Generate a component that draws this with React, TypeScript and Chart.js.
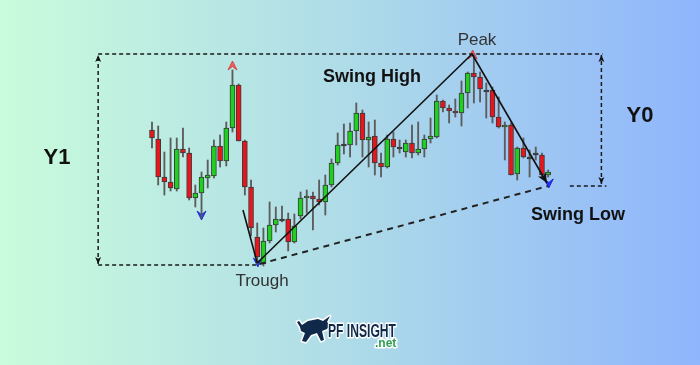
import React, { useEffect, useRef } from 'react';
import { Chart, registerables } from 'chart.js';

Chart.register(...registerables);

// ---- Candle data (price units) ----
const opens = [136, 127, 89, 84, 77, 117, 113, 68, 73, 88, 90, 120, 105, 138, 181, 125, 79, 29, 2, 25, 41, 47, 47, 24, 50, 68, 70, 67, 64, 81, 103, 122, 121, 135, 153, 126, 130, 103, 99, 127, 119, 114, 123, 113, 117, 127, 129, 165, 158, 155, 153, 173, 193, 189, 176, 176, 149, 139, 141, 92, 118, 109, 113, 111, 91];
const highs = [144, 140, 114, 128, 128, 138, 118, 81, 94, 106, 126, 131, 144, 196, 182, 126, 86, 43, 38, 64, 59, 60, 53, 52, 74, 76, 74, 86, 91, 107, 133, 142, 143, 163, 156, 144, 146, 113, 131, 134, 126, 126, 141, 144, 131, 148, 171, 166, 161, 167, 185, 194, 211, 194, 183, 179, 169, 144, 143, 119, 128, 116, 119, 113, 96];
const lows = [118, 81, 71, 75, 75, 109, 66, 59, 48, 78, 88, 99, 100, 134, 125, 71, 30, 2, 0, 23, 34, 44, 15, 23, 47, 53, 36, 61, 51, 79, 101, 112, 109, 121, 109, 99, 91, 89, 98, 109, 113, 109, 108, 111, 109, 123, 128, 154, 143, 149, 140, 158, 163, 164, 148, 143, 138, 106, 91, 86, 108, 89, 106, 89, 89];
const closes = [128, 89, 84, 78, 117, 113, 68, 73, 89, 91, 120, 105, 138, 181, 125, 79, 38, 9, 25, 41, 47, 47, 24, 40, 68, 70, 67, 64, 81, 103, 121, 122, 135, 153, 126, 129, 103, 99, 127, 119, 119, 123, 113, 117, 127, 130, 165, 158, 155, 153, 173, 193, 189, 177, 176, 149, 139, 141, 91, 118, 109, 109, 113, 91, 94];

// ---- Fractal markers ----
const upFractalX = [13, 51.8];
const upFractalY = [205, 216];
const downFractalX = [8, 17.1, 64.1];
const downFractalY = [46, -1, 78];

// ---- Swing structure ----
const leadInX = [14.7, 17];
const leadInY = [56, 3];
const swingHighX = [17, 51.7];
const swingHighY = [3, 212];
const swingDownX = [51.7, 63.8];
const swingDownY = [212, 83];
const baseX = [17.4, 64];
const baseY = [2, 80];

// ---- Levels / measures ----
const peakLevel = 212;
const troughLevel = 1;
const swingLowLevel = 80;
const leftMeasureX = -8.7;
const rightMeasureX = 72.6;
const troughX = 17.1;
const stubStartX = 67.5;
const stubEndX = 73.4;

const GREEN = '#1fd01f';
const RED = '#e8161c';

function pts(xs: number[], ys: number[]) {
  return xs.map((x, i) => ({ x, y: ys[i] }));
}

function drawFractal(ctx: CanvasRenderingContext2D, x: number, y: number, dir: number, fill: string, stroke: string) {
  ctx.beginPath();
  ctx.moveTo(x, y);
  ctx.lineTo(x - 4.5, y - dir * 9);
  ctx.lineTo(x, y - dir * 5.5);
  ctx.lineTo(x + 4.5, y - dir * 9);
  ctx.closePath();
  ctx.fillStyle = fill;
  ctx.fill();
  ctx.strokeStyle = stroke;
  ctx.lineWidth = 0.8;
  ctx.stroke();
}

function drawHead(ctx: CanvasRenderingContext2D, from: any, to: any, len: number, half: number, color: string) {
  const a = Math.atan2(to.y - from.y, to.x - from.x);
  ctx.save();
  ctx.translate(to.x, to.y);
  ctx.rotate(a);
  ctx.beginPath();
  ctx.moveTo(0, 0);
  ctx.lineTo(-len, -half);
  ctx.lineTo(-len * 0.75, 0);
  ctx.lineTo(-len, half);
  ctx.closePath();
  ctx.fillStyle = color;
  ctx.fill();
  ctx.restore();
}

const decorPlugin = {
  id: 'decor',
  beforeDraw(chart: any) {
    const { ctx, width, height } = chart;
    const g = ctx.createLinearGradient(0, 0, width, 0);
    g.addColorStop(0, '#c9fcdc');
    g.addColorStop(0.5, '#aedbe8');
    g.addColorStop(1, '#8fb5fc');
    ctx.save();
    ctx.fillStyle = g;
    ctx.fillRect(0, 0, width, height);
    ctx.restore();
  },
  beforeDatasetsDraw(chart: any) {
    const { ctx } = chart;
    const xs = chart.scales.x;
    const ys = chart.scales.y;
    ctx.save();
    upFractalX.forEach((x, i) => {
      drawFractal(ctx, xs.getPixelForValue(x), ys.getPixelForValue(upFractalY[i]), -1, 'rgba(255,70,70,0.85)', 'rgba(200,40,40,0.9)');
    });
    downFractalX.forEach((x, i) => {
      drawFractal(ctx, xs.getPixelForValue(x), ys.getPixelForValue(downFractalY[i]), 1, '#2035ff', '#1020c0');
    });
    ctx.restore();
  },
  afterDatasetsDraw(chart: any) {
    const { ctx } = chart;
    chart.data.datasets.forEach((ds: any, i: number) => {
      const meta = chart.getDatasetMeta(i);
      const p = meta.data;
      if (ds.arrowEnd && p.length > 1) drawHead(ctx, p[p.length - 2], p[p.length - 1], ds.arrowLen || 7, ds.arrowHalf || 3.5, '#111');
      if (ds.arrowStart && p.length > 1) drawHead(ctx, p[1], p[0], ds.arrowLen || 7, ds.arrowHalf || 3.5, '#111');
    });
  },
  afterDraw(chart: any) {
    const { ctx } = chart;
    ctx.save();
    ctx.textAlign = 'center';
    ctx.textBaseline = 'middle';
    const sans = '"Liberation Sans", Arial, sans-serif';
    ctx.fillStyle = '#333';
    ctx.font = `17px ${sans}`;
    ctx.fillText('Peak', 477, 40);
    ctx.fillText('Trough', 262, 281);
    ctx.fillStyle = '#111';
    ctx.font = `bold 18px ${sans}`;
    ctx.fillText('Swing High', 372, 77);
    ctx.fillText('Swing Low', 578, 215);
    ctx.font = `bold 22px ${sans}`;
    ctx.fillText('Y1', 57, 158);
    ctx.fillText('Y0', 640, 116);

    // logo
    ctx.lineJoin = 'round';
    ctx.beginPath();
    ctx.moveTo(300, 327);
    ctx.lineTo(297, 322);
    ctx.lineTo(299, 321);
    ctx.lineTo(302, 325);
    ctx.lineTo(308, 321);
    ctx.lineTo(318, 319);
    ctx.lineTo(323, 321);
    ctx.lineTo(330, 316);
    ctx.lineTo(327, 322);
    ctx.lineTo(330, 325);
    ctx.lineTo(327, 329);
    ctx.lineTo(322, 331);
    ctx.lineTo(324, 340);
    ctx.lineTo(321, 341);
    ctx.lineTo(317, 333);
    ctx.lineTo(311, 335);
    ctx.lineTo(306, 342);
    ctx.lineTo(302, 341);
    ctx.lineTo(305, 333);
    ctx.lineTo(301, 331);
    ctx.closePath();
    ctx.strokeStyle = '#fff';
    ctx.lineWidth = 3;
    ctx.stroke();
    ctx.fillStyle = '#10294a';
    ctx.fill();

    ctx.textAlign = 'left';
    ctx.font = `bold 18px ${sans}`;
    ctx.lineWidth = 3;
    ctx.strokeStyle = '#fff';
    ctx.strokeText('PF INSIGHT', 328, 332, 68);
    ctx.fillStyle = '#10294a';
    ctx.fillText('PF INSIGHT', 328, 332, 68);
    ctx.font = `bold 12px ${sans}`;
    ctx.strokeText('.net', 375, 344);
    ctx.fillStyle = '#2e9e52';
    ctx.fillText('.net', 375, 344);
    ctx.restore();
  },
};

export default function App() {
  const ref = useRef<HTMLCanvasElement | null>(null);
  useEffect(() => {
    if (!ref.current) return;
    const idx = opens.map((_, i) => i);
    const bodyColors = idx.map((i) => (closes[i] > opens[i] ? GREEN : closes[i] < opens[i] ? RED : '#333'));
    const solid = { type: 'line', pointRadius: 0, borderColor: '#111', borderWidth: 1.6, fill: false, tension: 0, order: 0 };
    const dashed = { type: 'line', pointRadius: 0, borderColor: '#1a1a1a', borderWidth: 1.5, borderDash: [4, 3], fill: false, tension: 0, order: 0 };
    const chart = new Chart(ref.current, {
      type: 'bar',
      data: {
        datasets: [
          { ...solid, data: pts(leadInX, leadInY) },
          { ...solid, data: pts(swingHighX, swingHighY) },
          { ...solid, data: pts(swingDownX, swingDownY), arrowEnd: true, arrowLen: 10, arrowHalf: 4.5 },
          { ...dashed, borderWidth: 2, borderDash: [6, 5], borderColor: '#222', data: pts(baseX, baseY) },
          { ...dashed, data: pts([leftMeasureX, rightMeasureX + 0.2], [peakLevel, peakLevel]) },
          { ...dashed, data: pts([leftMeasureX, troughX], [troughLevel, troughLevel]) },
          { ...dashed, data: pts([stubStartX, stubEndX], [swingLowLevel, swingLowLevel]) },
          { ...dashed, data: pts([leftMeasureX, leftMeasureX], [troughLevel + 1, peakLevel - 1]), arrowEnd: true, arrowStart: true, arrowLen: 7, arrowHalf: 3 },
          { ...dashed, data: pts([rightMeasureX, rightMeasureX], [swingLowLevel + 2, peakLevel - 1]), arrowEnd: true, arrowStart: true, arrowLen: 7, arrowHalf: 3 },
          {
            type: 'bar',
            data: idx.map((i) => ({ x: i, y: [opens[i], closes[i]] })),
            backgroundColor: bodyColors,
            borderColor: '#3a3a3a',
            borderWidth: 1,
            borderSkipped: false,
            barThickness: 5,
            minBarLength: 2,
            grouped: false,
            order: 1,
          },
          {
            type: 'bar',
            data: idx.map((i) => ({ x: i, y: [lows[i], highs[i]] })),
            backgroundColor: '#5c5c5c',
            borderWidth: 0,
            barThickness: 1.2,
            grouped: false,
            order: 2,
          },
        ] as any,
      },
      options: {
        animation: false,
        responsive: false,
        events: [],
        layout: { padding: 0 },
        plugins: { legend: { display: false }, tooltip: { enabled: false } },
        scales: {
          x: { type: 'linear', min: -24.556, max: 88.53, display: false, offset: false, grid: { display: false } },
          y: { type: 'linear', min: -99, max: 266, display: false, grid: { display: false } },
        },
      } as any,
      plugins: [decorPlugin],
    });
    return () => chart.destroy();
  }, []);
  return (
    <div style={{ position: 'fixed', left: 0, top: 0, width: 700, height: 365 }}>
      <canvas ref={ref} width={700} height={365} style={{ width: 700, height: 365, display: 'block' }} />
    </div>
  );
}
